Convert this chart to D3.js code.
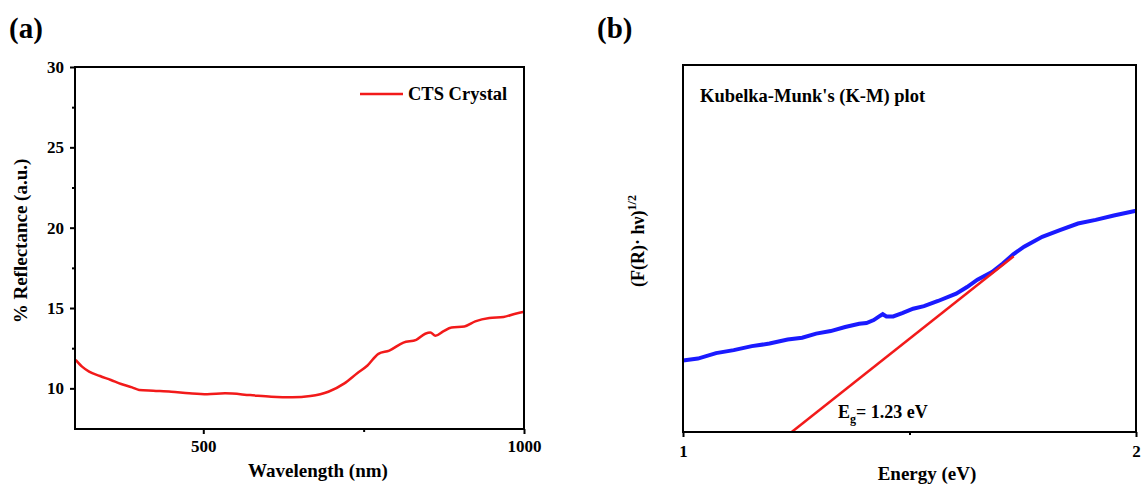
<!DOCTYPE html>
<html>
<head>
<meta charset="utf-8">
<script src="https://cdn.jsdelivr.net/npm/d3@7"></script>
<style>
  body { margin: 0; background: #fff; }
  svg { display: block; font-family: "Liberation Serif", "Times New Roman", serif; font-weight: bold; }
  .tick text { font-family: "Liberation Serif", serif; font-weight: bold; }
</style>
</head>
<body>
<svg width="1142" height="486"></svg>
<script>
// panel (a): reflectance spectrum
const wavelength = [301, 311, 322, 339, 356, 372, 389, 400, 422, 450, 478, 506, 534, 573, 606, 639, 667, 695, 720, 740, 756, 773, 790, 812, 832, 846, 854, 862, 874, 887, 907, 924, 946, 968, 985, 1000]
const reflectance = [11.77, 11.35, 11.04, 10.77, 10.52, 10.27, 10.06, 9.90, 9.85, 9.79, 9.69, 9.63, 9.69, 9.58, 9.48, 9.44, 9.52, 9.79, 10.31, 10.94, 11.42, 12.15, 12.35, 12.85, 13.02, 13.40, 13.48, 13.27, 13.54, 13.79, 13.85, 14.17, 14.38, 14.44, 14.63, 14.77]
const aTicksX = [500, 1000]
const aMinorX = [750]
const aTicksY = [10, 15, 20, 25, 30]
const aMinorY = [12.5, 17.5, 22.5, 27.5]

// panel (b): K-M plot, y in arbitrary units
const energy = [1.000, 1.033, 1.073, 1.112, 1.152, 1.191, 1.231, 1.263, 1.294, 1.326, 1.358, 1.389, 1.405, 1.421, 1.433, 1.441, 1.449, 1.464, 1.484, 1.508, 1.532, 1.563, 1.603, 1.627, 1.650, 1.682, 1.706, 1.729, 1.753, 1.793, 1.832, 1.872, 1.911, 1.951, 2.000]
const kmValue = [19.5, 20.0, 21.5, 22.3, 23.4, 24.1, 25.2, 25.7, 26.8, 27.5, 28.6, 29.5, 29.7, 30.5, 31.5, 32.1, 31.5, 31.5, 32.4, 33.6, 34.3, 35.7, 37.7, 39.5, 41.5, 43.6, 45.9, 48.4, 50.5, 53.2, 55.0, 56.8, 57.8, 59.0, 60.3]
const fitLine = [{x: 1.24, y: 0}, {x: 1.73, y: 47.9}]
const bTicksX = [1, 2]
const bMinorX = [1.5]

const svg = d3.select('svg')
svg.append('rect').attr('width', 1142).attr('height', 486).attr('fill', '#fff')

function styleAxis(g) {
	g.select('.domain').remove()
	g.selectAll('.tick line').attr('stroke', '#000').attr('stroke-width', 2)
	g.selectAll('.tick text').attr('font-size', 17).attr('fill', '#000')
}

// ---------- panel (a)
const A = {left: 75, right: 524, top: 67, bottom: 429}
const xa = d3.scaleLinear().domain([300, 1000]).range([A.left, A.right])
const ya = d3.scaleLinear().domain([7.47, 30]).range([A.bottom, A.top])

svg.append('g').attr('transform', 'translate(0,' + A.bottom + ')')
	.call(d3.axisBottom(xa).tickValues(aTicksX).tickSize(5).tickPadding(6).tickFormat(d3.format('d')))
	.call(styleAxis)
svg.append('g').attr('transform', 'translate(0,' + A.bottom + ')')
	.call(d3.axisBottom(xa).tickValues(aMinorX).tickSize(3).tickFormat(''))
	.call(styleAxis)
svg.append('g').attr('transform', 'translate(' + A.left + ',0)')
	.call(d3.axisLeft(ya).tickValues(aTicksY).tickSize(5).tickPadding(6))
	.call(styleAxis)
svg.append('g').attr('transform', 'translate(' + A.left + ',0)')
	.call(d3.axisLeft(ya).tickValues(aMinorY).tickSize(3).tickFormat(''))
	.call(styleAxis)

const lineA = d3.line().x((d, i) => xa(wavelength[i])).y(d => ya(d)).curve(d3.curveMonotoneX)
svg.append('path').datum(reflectance)
	.attr('fill', 'none').attr('stroke', '#f21a1a').attr('stroke-width', 2.5)
	.attr('d', lineA)

svg.append('rect').attr('x', A.left).attr('y', A.top)
	.attr('width', A.right - A.left).attr('height', A.bottom - A.top)
	.attr('fill', 'none').attr('stroke', '#000').attr('stroke-width', 2)

// legend
svg.append('line').attr('x1', 360).attr('x2', 403).attr('y1', 94).attr('y2', 94)
	.attr('stroke', '#f21a1a').attr('stroke-width', 2.5)
svg.append('text').attr('x', 408).attr('y', 100).attr('font-size', 18.5).text('CTS Crystal')

svg.append('text').attr('x', 318).attr('y', 477)
	.attr('text-anchor', 'middle').attr('font-size', 19).text('Wavelength (nm)')
svg.append('text').attr('transform', 'translate(27,' + 241 + ') rotate(-90)')
	.attr('text-anchor', 'middle').attr('font-size', 19).text('% Reflectance (a.u.)')
svg.append('text').attr('x', 9).attr('y', 38).attr('font-size', 29).text('(a)')

// ---------- panel (b)
const B = {left: 683, right: 1136, top: 65, bottom: 432}
const xb = d3.scaleLinear().domain([1, 2]).range([B.left, B.right])
const yb = d3.scaleLinear().domain([0, 100]).range([B.bottom, B.top])

svg.append('g').attr('transform', 'translate(0,' + B.bottom + ')')
	.call(d3.axisBottom(xb).tickValues(bTicksX).tickSize(5).tickPadding(8).tickFormat(d3.format('d')))
	.call(styleAxis)
svg.append('g').attr('transform', 'translate(0,' + B.bottom + ')')
	.call(d3.axisBottom(xb).tickValues(bMinorX).tickSize(3).tickFormat(''))
	.call(styleAxis)

const lineB = d3.line().x((d, i) => xb(energy[i])).y(d => yb(d))
svg.append('path').datum(kmValue)
	.attr('fill', 'none').attr('stroke', '#1a1aff').attr('stroke-width', 4)
	.attr('d', lineB)

svg.append('path').datum(fitLine)
	.attr('fill', 'none').attr('stroke', '#f21a1a').attr('stroke-width', 2.5)
	.attr('d', d3.line().x(d => xb(d.x)).y(d => yb(d.y)))

svg.append('rect').attr('x', B.left).attr('y', B.top)
	.attr('width', B.right - B.left).attr('height', B.bottom - B.top)
	.attr('fill', 'none').attr('stroke', '#000').attr('stroke-width', 2)

svg.append('text').attr('x', 700).attr('y', 102).attr('font-size', 18.5).text("Kubelka-Munk's (K-M) plot")

const eg = svg.append('text').attr('x', 838).attr('y', 418).attr('font-size', 18)
eg.append('tspan').text('E')
eg.append('tspan').attr('dy', 5).attr('font-size', 12).text('g')
eg.append('tspan').attr('dy', -5).text('= 1.23 eV')

svg.append('text').attr('x', 927).attr('y', 480)
	.attr('text-anchor', 'middle').attr('font-size', 19).text('Energy (eV)')
const yl = svg.append('text').attr('transform', 'translate(644,' + 241 + ') rotate(-90)')
	.attr('text-anchor', 'middle').attr('font-size', 18)
yl.append('tspan').text('(F(R)· hν)')
yl.append('tspan').attr('dy', -8).attr('font-size', 12).text('1/2')
svg.append('text').attr('x', 597).attr('y', 38).attr('font-size', 29).text('(b)')
</script>
</body>
</html>
